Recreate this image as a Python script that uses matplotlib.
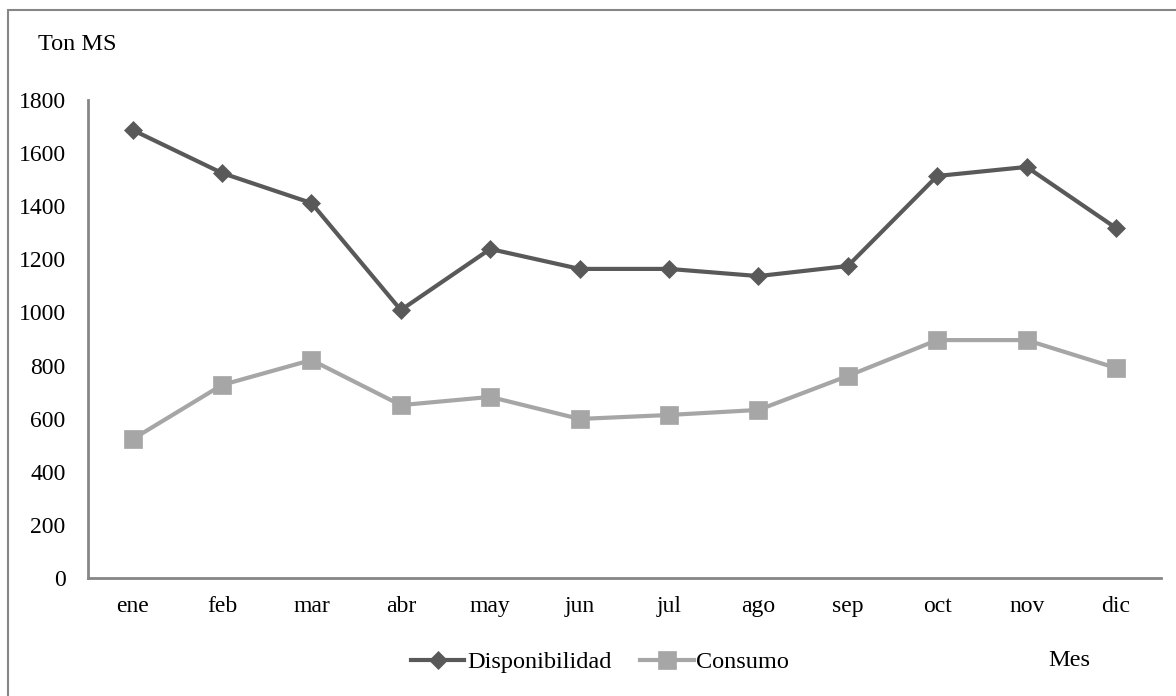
import matplotlib
matplotlib.use("Agg")
import matplotlib.pyplot as plt
from matplotlib.patches import Rectangle

meses = ['ene', 'feb', 'mar', 'abr', 'may', 'jun', 'jul', 'ago', 'sep', 'oct', 'nov', 'dic']
disponibilidad = [1687, 1525, 1412, 1009, 1239, 1164, 1164, 1137, 1175, 1514, 1548, 1318]
consumo = [523, 727, 821, 651, 682, 599, 614, 633, 761, 896, 896, 791]
y_ticks = list(range(0, 2000, 200))

plt.rcParams['font.family'] = ['Liberation Serif', 'DejaVu Serif']

fig = plt.figure(figsize=(11.76, 6.96), dpi=100)
ax = fig.add_axes([0.0748, 0.1695, 0.9122, 0.6868])

x = list(range(len(meses)))
ax.plot(x, disponibilidad, color='#595959', lw=3, marker='D', ms=9.5,
        mec='#595959', mew=0.5, label='Disponibilidad')
ax.plot(x, consumo, color='#A6A6A6', lw=3, marker='s', ms=13,
        mec='#A6A6A6', mew=0.5, label='Consumo')

ax.set_xlim(-0.5, len(meses) - 0.5)
ax.set_ylim(0, 1800)
ax.set_yticks(y_ticks)
ax.set_xticks(x)
ax.set_xticklabels(meses)
ax.tick_params(axis='both', length=0, labelsize=17)
ax.tick_params(axis='y', pad=16)
ax.tick_params(axis='x', pad=13)
for side in ['top', 'right']:
    ax.spines[side].set_visible(False)
for side in ['left', 'bottom']:
    ax.spines[side].set_color('#868686')
    ax.spines[side].set_linewidth(2)

fig.text(38 / 1176, 1 - 44 / 696, 'Ton MS', fontsize=17.5, va='center', ha='left')
fig.text(1069 / 1176, 1 - 660 / 696, 'Mes', fontsize=17.5, va='center', ha='center')

fig.legend(loc='center', bbox_to_anchor=(600 / 1176, 1 - 662 / 696), ncol=2,
           frameon=False, fontsize=17.5, handlelength=2.2, handletextpad=0.1,
           columnspacing=1.2)

top = 1 - 10 / 696
fig.add_artist(Rectangle((8 / 1176, -0.2), 1.2, top + 0.2,
                         transform=fig.transFigure, fill=False,
                         edgecolor='#868686', lw=1.5))

fig.savefig('out.png', dpi=100)
